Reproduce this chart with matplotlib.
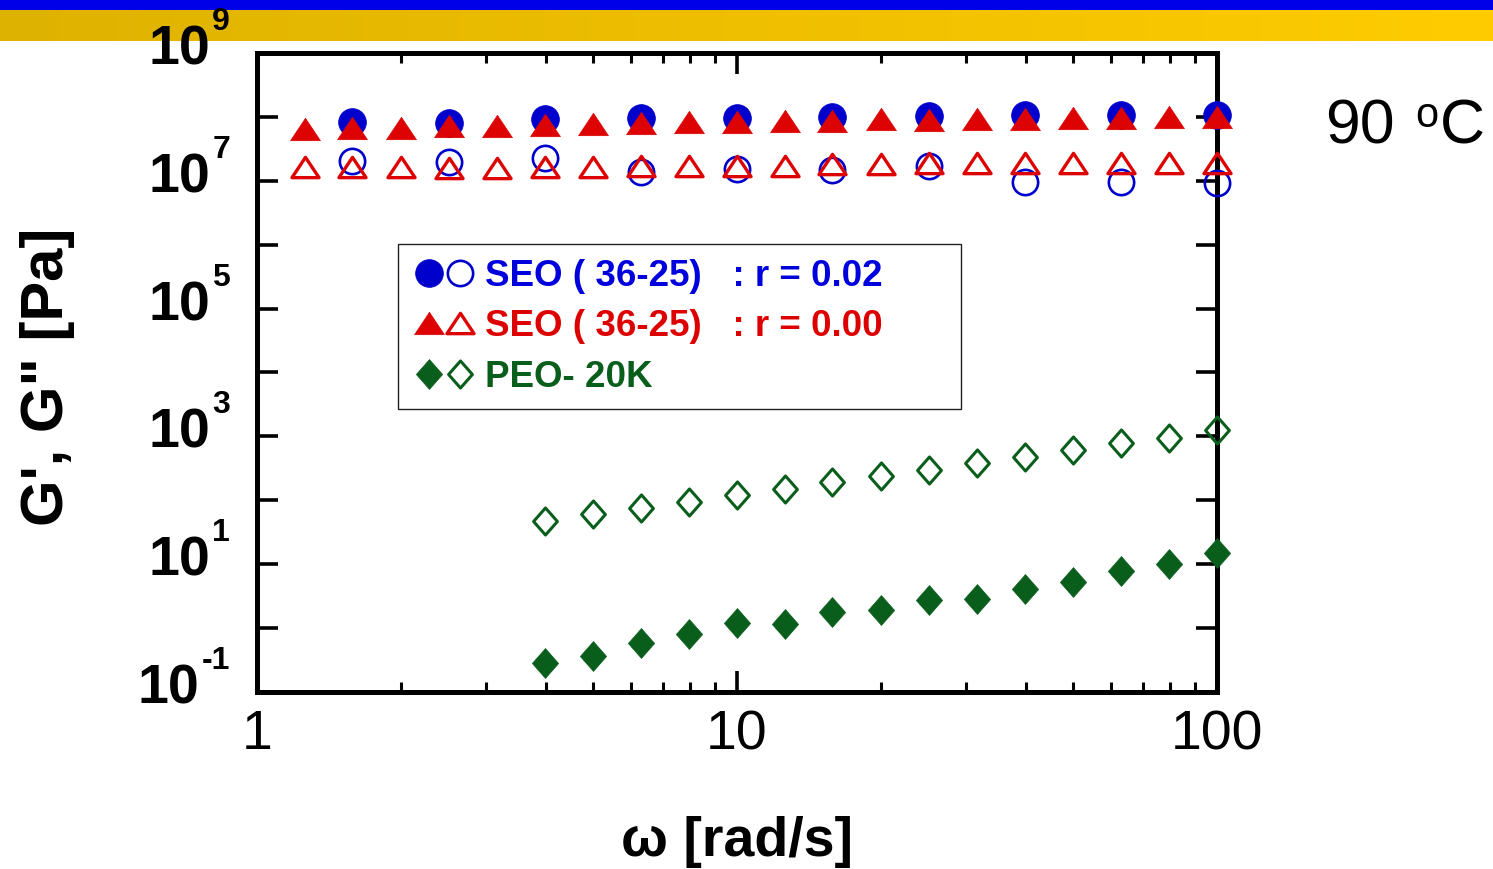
import matplotlib
matplotlib.use("Agg")
import matplotlib.pyplot as plt
import numpy as np
from matplotlib.path import Path
from matplotlib.transforms import blended_transform_factory, offset_copy
from matplotlib.legend_handler import HandlerTuple
from matplotlib.ticker import LogLocator, NullLocator, NullFormatter, FixedLocator, FixedFormatter

plt.rcParams['font.family'] = ['Liberation Sans', 'DejaVu Sans']

# ---------------- data ----------------
omega_tri = [1.26, 1.58, 2.0, 2.51, 3.16, 3.98, 5.01, 6.31, 7.94, 10.0,
             12.6, 15.8, 20.0, 25.1, 31.6, 39.8, 50.1, 63.1, 79.4, 100.0]
omega_circ = [1.58, 2.51, 3.98, 6.31, 10.0, 15.8, 25.1, 39.8, 63.1, 100.0]
omega_dia = [3.98, 5.01, 6.31, 7.94, 10.0, 12.6, 15.8, 20.0, 25.1, 31.6,
             39.8, 50.1, 63.1, 79.4, 100.0]

Gp_r002 = [8.2e7, 8.0e7, 9.2e7, 9.7e7, 9.5e7, 1.0e8, 1.03e8, 1.09e8, 1.09e8, 1.09e8]
Gpp_r002 = [2.06e7, 2.0e7, 2.24e7, 1.38e7, 1.52e7, 1.47e7, 1.7e7, 9.7e6, 9.7e6, 9.1e6]

Gp_r000 = [6.5e7, 6.8e7, 6.8e7, 7.1e7, 7.2e7, 7.5e7, 7.7e7, 7.9e7, 8.2e7, 8.3e7,
           8.5e7, 8.7e7, 9.2e7, 9.1e7, 9.2e7, 9.4e7, 9.5e7, 9.7e7, 9.9e7, 1.0e8]
Gpp_r000 = [1.64e7, 1.64e7, 1.64e7, 1.57e7, 1.57e7, 1.64e7, 1.64e7, 1.7e7, 1.7e7, 1.72e7,
            1.73e7, 1.8e7, 1.85e7, 1.9e7, 1.93e7, 1.93e7, 1.93e7, 1.93e7, 1.93e7, 1.9e7]

Gp_peo = [0.28, 0.37, 0.58, 0.81, 1.22, 1.15, 1.81, 1.92, 2.75, 2.85,
          4.1, 5.2, 7.8, 10.0, 15.0]
Gpp_peo = [48, 61, 75, 95, 121, 150, 191, 240, 298, 388,
           480, 612, 778, 955, 1240]

legend_labels = ["SEO ( 36-25)   : r = 0.02",
                 "SEO ( 36-25)   : r = 0.00",
                 "PEO- 20K"]
y_label_exps = [-1, 1, 3, 5, 7, 9]
x_tick_vals = [1, 10, 100]
x_tick_labels = ["1", "10", "100"]

BLUE = '#0000CD'
RED = '#DD0303'
GREEN = '#0A5E1C'
BLUE_T = '#0000DD'
RED_T = '#DD0000'

# ---------------- figure ----------------
W, H = 1493, 869
fig = plt.figure(figsize=(W / 100, H / 100), dpi=100)

# top decorative band
band = fig.add_axes([0, 1 - 41 / H, 1, 41 / H], zorder=-5)
band.set_axis_off()
img = np.zeros((41, 300, 3))
t = np.linspace(0, 1, 300)
gold = np.stack([(222 + 33 * t) / 255, (178 + 26 * t) / 255, np.zeros_like(t)], axis=1)
img[:, :, :] = gold[None, :, :]
img[:10, :, :] = np.array([0, 0, 232]) / 255
band.imshow(img, aspect='auto', extent=[0, 1, 0, 1], interpolation='bilinear')
band.set_xlim(0, 1)
band.set_ylim(0, 1)

ax = fig.add_axes([257 / W, 1 - 692 / H, 960 / W, 639 / H])
ax.set_xscale('log')
ax.set_yscale('log')
ax.set_xlim(1, 100)
ax.set_ylim(1e-1, 1e9)

# markers
tri = Path([(0, 0.75), (-1, -0.75), (1, -0.75), (0, 0.75)],
           [Path.MOVETO, Path.LINETO, Path.LINETO, Path.CLOSEPOLY])
dia = Path([(0, 1), (0.88, 0), (0, -1), (-0.88, 0), (0, 1)],
           [Path.MOVETO, Path.LINETO, Path.LINETO, Path.LINETO, Path.CLOSEPOLY])

kw = dict(ls='none', clip_on=False)
l1, = ax.plot(omega_circ, Gp_r002, marker='o', ms=20, mfc=BLUE, mec=BLUE, mew=0.5, **kw)
l2, = ax.plot(omega_circ, Gpp_r002, marker='o', ms=18.2, mfc='none', mec=BLUE, mew=1.9, **kw)
l3, = ax.plot(omega_tri, Gp_r000, marker=tri, ms=21.5, mfc=RED, mec=RED, mew=0.5, **kw)
l4, = ax.plot(omega_tri, Gpp_r000, marker=tri, ms=19.5, mfc='none', mec=RED, mew=2.4, **kw)
l5, = ax.plot(omega_dia, Gp_peo, marker=dia, ms=21.5, mfc=GREEN, mec=GREEN, mew=0.5, **kw)
l6, = ax.plot(omega_dia, Gpp_peo, marker=dia, ms=19.5, mfc='none', mec=GREEN, mew=2.2, **kw)

# spines and ticks
for s in ax.spines.values():
    s.set_linewidth(3.6)
    s.set_zorder(1)
ax.yaxis.set_major_locator(LogLocator(base=10, numticks=30))
ax.yaxis.set_minor_locator(NullLocator())
ax.xaxis.set_major_locator(FixedLocator(x_tick_vals))
ax.xaxis.set_major_formatter(FixedFormatter(x_tick_labels))
ax.xaxis.set_minor_locator(LogLocator(base=10, subs=np.arange(2, 10), numticks=30))
ax.xaxis.set_minor_formatter(NullFormatter())
ax.tick_params(which='both', direction='in', top=True, right=True, labelleft=False)
ax.tick_params(which='major', length=15, width=2.6)
ax.tick_params(which='minor', length=7.5, width=2.2)
ax.tick_params(axis='x', which='major', pad=12.5, labelsize=40)

# custom y tick labels: "10" with raised exponent
trans = blended_transform_factory(ax.transAxes, ax.transData)
x_exp = (230 - 257) / 960
exp_texts = []
for e in y_label_exps:
    et = ax.text(x_exp, 10.0 ** e, str(e), ha='right', va='baseline', fontsize=23,
                 fontweight='bold', clip_on=False,
                 transform=offset_copy(trans, fig, x=0, y=23, units='dots'))
    exp_texts.append(et)
fig.canvas.draw()
renderer = fig.canvas.get_renderer()
for e, et in zip(y_label_exps, exp_texts):
    bb = et.get_window_extent(renderer)
    x_right_ax = (bb.x0 - 2 - ax.bbox.x0) / ax.bbox.width
    ax.text(x_right_ax, 10.0 ** e, "10", ha='right', va='baseline', fontsize=40,
            fontweight='bold', clip_on=False,
            transform=offset_copy(trans, fig, x=0, y=-11.5, units='dots'))

# axis labels
ax.set_xlabel("\u03c9 [rad/s]", fontsize=40, fontweight='bold')
ax.xaxis.set_label_coords(0.5, (692 - 856) / 639)
ax.xaxis.label.set_va('baseline')
ax.set_ylabel("G', G\" [Pa]", fontsize=43, fontweight='bold')
ax.yaxis.set_label_coords((48 - 257) / 960, (692 - 377) / 639)
ax.yaxis.label.set_va('center')

# legend
leg = ax.legend([(l1, l2), (l3, l4), (l5, l6)], legend_labels,
                handler_map={tuple: HandlerTuple(ndivide=None, pad=0)},
                loc='upper left',
                bbox_to_anchor=((398 - 257) / 960, 0.0, (961 - 398) / 960, (692 - 244) / 639),
                mode='expand', borderaxespad=0, borderpad=0.4, handlelength=1.72,
                handletextpad=0.24, labelspacing=0.42, fancybox=False, framealpha=1,
                edgecolor='#222222', prop={'size': 26.5, 'weight': 'bold'})
leg.get_frame().set_linewidth(1.0)
for txt, c in zip(leg.get_texts(), [BLUE_T, RED_T, GREEN]):
    txt.set_color(c)

# temperature annotation
fig.text(1325 / W, 1 - 143 / H, "90", fontsize=45, ha='left', va='baseline')
fig.text(1415 / W, 1 - 127 / H, "o", fontsize=30, ha='left', va='baseline')
fig.text(1440 / W, 1 - 143 / H, "C", fontsize=45, ha='left', va='baseline')

fig.savefig("out.png", dpi=100)
